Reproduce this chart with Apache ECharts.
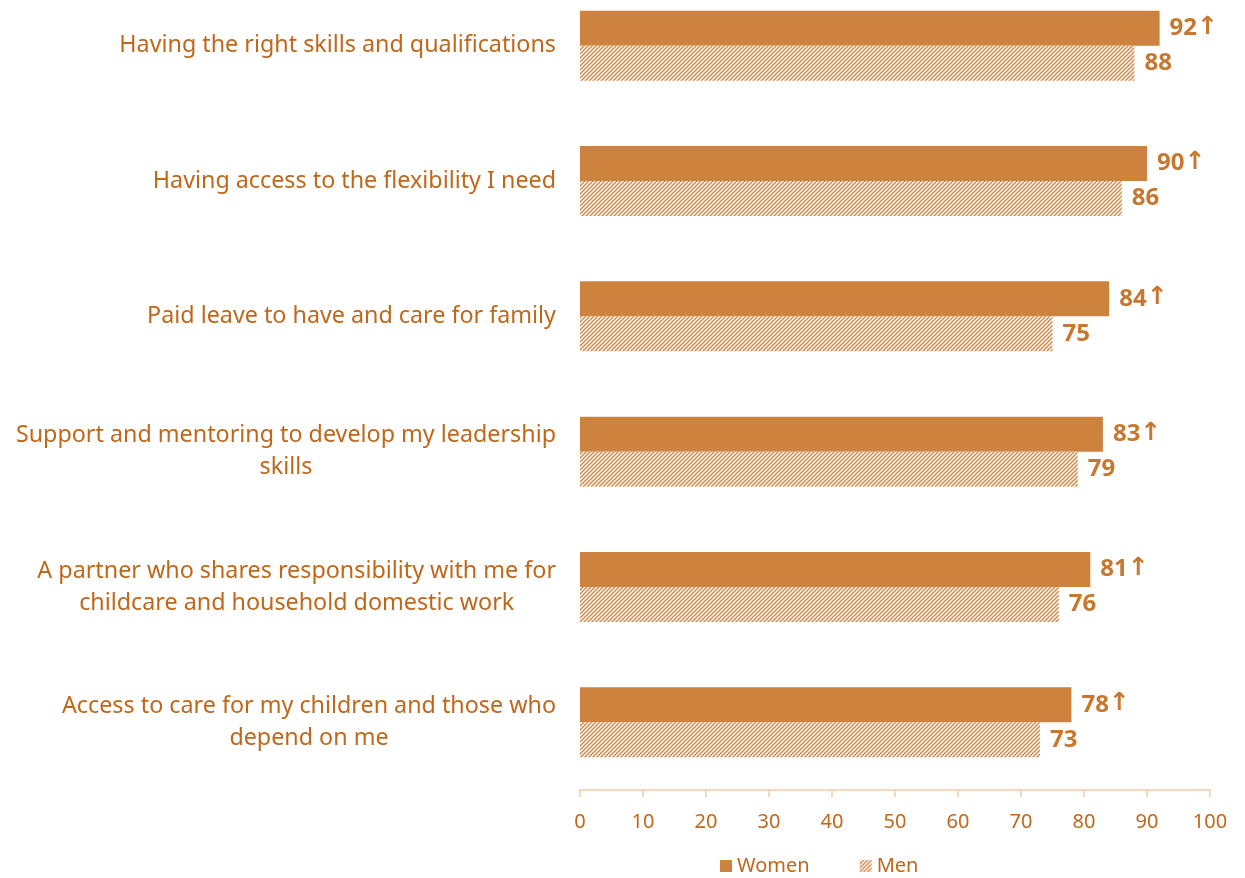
<!DOCTYPE html>
<html>
<head>
<meta charset="utf-8">
<script src="https://cdn.jsdelivr.net/npm/echarts@6/dist/echarts.min.js"></script>
<style>
html,body{margin:0;padding:0;background:#fff;overflow:hidden;}
#chart{width:1245px;height:900px;margin-top:-22px;}
</style>
</head>
<body>
<div id="chart"></div>
<script>
const categories = [
  'Having the right skills and qualifications',
  'Having access to the flexibility I need',
  'Paid leave to have and care for family',
  'Support and mentoring to develop my leadership\nskills',
  'A partner who shares responsibility with me for\nchildcare and household domestic work',
  'Access to care for my children and those who\ndepend on me'
];
const women = [92, 90, 84, 83, 81, 78];
const men = [88, 86, 75, 79, 76, 73];
const xTicks = [0, 10, 20, 30, 40, 50, 60, 70, 80, 90, 100];

const BAR = '#CD823E';
const TEXT = '#C0671A';
const LABEL = '#C8772F';
const FONT = '"Noto Sans", "Open Sans", sans-serif';

function hatch() {
  const c = document.createElement('canvas');
  c.width = 4; c.height = 4;
  const g = c.getContext('2d');
  g.fillStyle = '#fff';
  g.fillRect(0, 0, 4, 4);
  g.strokeStyle = BAR;
  g.lineWidth = 1.3;
  g.beginPath();
  g.moveTo(0, 4); g.lineTo(4, 0);
  g.moveTo(-1, 1); g.lineTo(1, -1);
  g.moveTo(3, 5); g.lineTo(5, 3);
  g.stroke();
  return c;
}

const valueRich = {
  v: { color: LABEL, fontFamily: FONT, fontWeight: 'bold', fontSize: 24 },
  a: { color: LABEL, fontFamily: '"DejaVu Sans", sans-serif', fontWeight: 'bold', fontSize: 25, padding: [0, 0, 2, 0] }
};

const chart = echarts.init(document.getElementById('chart'));
chart.setOption({
  animation: false,
  backgroundColor: '#fff',
  grid: { left: 580, right: 35, top: 0, bottom: 88, containLabel: false },
  xAxis: {
    type: 'value', min: 0, max: 100, interval: 10,
    axisLine: { show: true, lineStyle: { color: '#F2CCA8', width: 1.5 } },
    axisTick: { show: true, length: 7, lineStyle: { color: '#F2CCA8', width: 1.5 } },
    splitLine: { show: false },
    axisLabel: {
      color: TEXT, fontFamily: FONT, fontSize: 20, margin: 22,
      formatter: v => xTicks.includes(v) ? String(v) : ''
    }
  },
  yAxis: {
    type: 'category', data: categories, inverse: true,
    axisLine: { show: false }, axisTick: { show: false },
    axisLabel: {
      color: TEXT, fontFamily: FONT, fontSize: 23.3, margin: 24, align: 'right',
      lineHeight: 32,
      formatter: v => v.split('\n').map(l => '{c|' + l + '}').join('\n'),
      rich: { c: { align: 'center', color: TEXT, fontFamily: FONT, fontSize: 23.3, lineHeight: 32 } }
    }
  },
  legend: {
    top: 873, left: 715, itemWidth: 12, itemHeight: 12, itemGap: 50,
    textStyle: { color: TEXT, fontFamily: FONT, fontSize: 20 },
    data: [{ name: 'Women', icon: 'rect' }, { name: 'Men', icon: 'rect' }]
  },
  series: [
    {
      name: 'Women', type: 'bar', data: women, barWidth: 35, barGap: '0%',
      itemStyle: { color: BAR },
      label: {
        show: true, position: 'right', distance: 10,
        formatter: p => '{v|' + p.value + '}{a|↑}',
        rich: valueRich
      }
    },
    {
      name: 'Men', type: 'bar', data: men, barWidth: 35, barGap: '0%',
      itemStyle: { color: { image: hatch(), repeat: 'repeat' } },
      label: {
        show: true, position: 'right', distance: 10,
        formatter: p => '{v|' + p.value + '}',
        rich: valueRich
      }
    }
  ]
});
</script>
</body>
</html>
